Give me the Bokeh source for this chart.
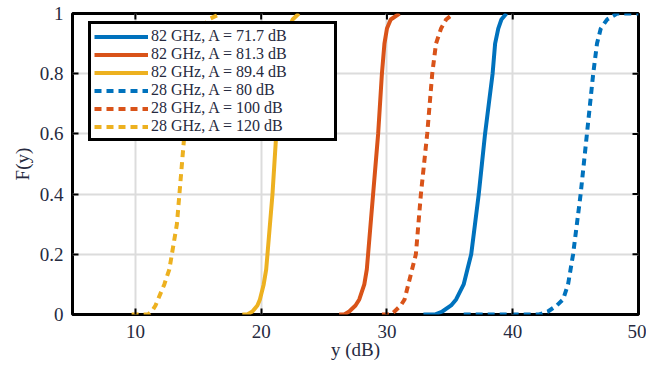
import math
from bokeh.plotting import figure
from bokeh.models import FixedTicker, Legend, LegendItem, Range1d
from bokeh.embed import file_html
from bokeh.resources import INLINE

# CDF levels (first entry = start of the flat zero segment)
F_LEVELS = [0, 0, 0.01, 0.03, 0.05, 0.1, 0.15, 0.2, 0.3, 0.4, 0.5, 0.6, 0.7, 0.8, 0.9, 0.95, 0.98, 1]

# y (dB) values at those CDF levels
y_82_717 = [32.9, 33.8, 34.4, 35.1, 35.5, 36.1, 36.4, 36.7, 37.0, 37.3, 37.55, 37.8, 38.1, 38.4, 38.6, 38.85, 39.1, 39.5]
y_82_813 = [26.2, 26.6, 27.0, 27.5, 27.8, 28.2, 28.4, 28.5, 28.7, 28.9, 29.1, 29.3, 29.45, 29.6, 29.8, 30.0, 30.3, 31.0]
y_82_894 = [18.5, 18.9, 19.3, 19.7, 19.9, 20.2, 20.4, 20.5, 20.7, 20.9, 21.05, 21.2, 21.4, 21.6, 21.9, 22.2, 22.5, 23.0]
y_28_80 = [36.1, 42.1, 42.8, 43.5, 44.0, 44.4, 44.6, 44.8, 45.1, 45.4, 45.65, 45.9, 46.15, 46.4, 46.7, 47.0, 47.5, 48.3, 50.0]
y_28_100 = [29.6, 30.3, 30.6, 31.1, 31.4, 31.7, 32.0, 32.3, 32.5, 32.7, 32.95, 33.2, 33.4, 33.6, 33.9, 34.3, 34.7, 35.3]
y_28_120 = [9.7, 11.0, 11.3, 11.6, 11.8, 12.3, 12.7, 12.9, 13.3, 13.5, 13.7, 13.9, 14.2, 14.5, 14.9, 15.3, 15.8, 16.8]

labels = ["82 GHz, A = 71.7 dB", "82 GHz, A = 81.3 dB", "82 GHz, A = 89.4 dB",
          "28 GHz, A = 80 dB", "28 GHz, A = 100 dB", "28 GHz, A = 120 dB"]
series = [y_82_717, y_82_813, y_82_894, y_28_80, y_28_100, y_28_120]
colors = ["#0072BD", "#D95319", "#EDB120", "#0072BD", "#D95319", "#EDB120"]
dashes = ["solid", "solid", "solid", "7 5", "7 5", "7 5"]

x_ticks = [10, 20, 30, 40, 50]
y_ticks = [0, 0.2, 0.4, 0.6, 0.8, 1]

TXT = "#262a40"
SERIF = "Liberation Serif"

p = figure(width=646, height=366, x_range=Range1d(5, 50), y_range=Range1d(0, 1),
           output_backend="svg", toolbar_location=None,
           min_border_left=72, min_border_right=8, min_border_top=13, min_border_bottom=52)

p.outline_line_color = "black"
p.outline_line_width = 3
p.outline_line_alpha = 1

for ax, tk in ((p.xaxis, x_ticks), (p.yaxis, y_ticks)):
    ax.ticker = FixedTicker(ticks=tk)
    ax.axis_line_color = None
    ax.major_tick_in = 6
    ax.major_tick_out = 0
    ax.major_tick_line_width = 2
    ax.major_tick_line_color = "black"
    ax.minor_tick_line_color = None
    ax.major_label_text_font = SERIF
    ax.major_label_text_font_size = "19px"
    ax.major_label_text_color = TXT
    ax.axis_label_text_font = SERIF
    ax.axis_label_text_font_size = "19px"
    ax.axis_label_text_font_style = "normal"
    ax.axis_label_text_color = TXT

p.xaxis.axis_label = "y (dB)"
p.yaxis.axis_label = "F(y)"
p.xaxis.major_label_standoff = 10
p.yaxis.major_label_standoff = 9
p.xaxis.axis_label_standoff = -2
p.yaxis.axis_label_standoff = 4
p.yaxis.major_label_overrides = {0: "0", 1: "1"}

p.xgrid.ticker = FixedTicker(ticks=x_ticks)
p.ygrid.ticker = FixedTicker(ticks=y_ticks)
p.grid.grid_line_color = "#dcdcdc"
p.grid.grid_line_width = 2

# inward ticks on the top and right edges of the box (half of each dash is clipped away)
p.scatter(x_ticks, [1] * len(x_ticks), marker="dash", size=12, angle=math.pi / 2,
          line_color="black", line_width=2)
p.scatter([50] * len(y_ticks), y_ticks, marker="dash", size=12,
          line_color="black", line_width=2)

items = []
for lab, ys, c, d in zip(labels, series, colors, dashes):
    fl = F_LEVELS + [1] * (len(ys) - len(F_LEVELS))
    r = p.line(ys, fl, line_color=c, line_width=4, line_dash=d)
    items.append(LegendItem(label=lab, renderers=[r]))

legend = Legend(items=items, location=(16, 173), border_line_color="black", border_line_width=3,
                border_line_alpha=1, background_fill_color="white", background_fill_alpha=1,
                label_text_font=SERIF, label_text_font_size="16px", label_text_color=TXT,
                glyph_width=54, glyph_height=17, label_height=17, label_standoff=3,
                padding=3, spacing=0, margin=0, label_width=180)
p.add_layout(legend)

open("out.html", "w").write(file_html(p, INLINE))
